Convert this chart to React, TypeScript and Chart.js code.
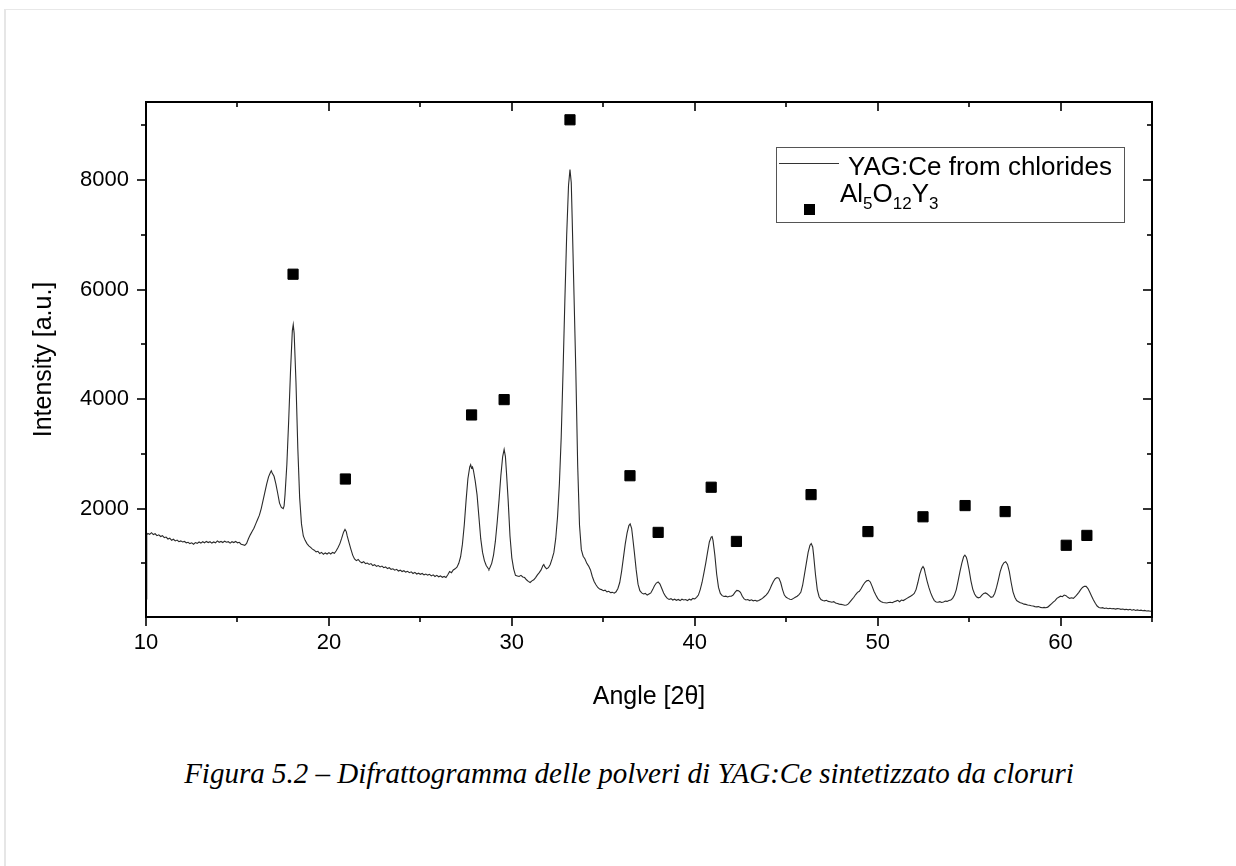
import React, { useEffect, useRef } from 'react';
import { Chart, registerables } from 'chart.js';

Chart.register(...registerables);

// ---------- data ----------
const angles = [
  10.0, 10.04, 10.1, 10.2, 10.3, 10.4, 10.5, 10.6, 10.7, 10.8,
  10.9, 11.0, 11.1, 11.2, 11.3, 11.4, 11.5, 11.6, 11.7, 11.8,
  11.9, 12.0, 12.1, 12.2, 12.3, 12.4, 12.5, 12.6, 12.7, 12.8,
  12.9, 13.0, 13.1, 13.2, 13.3, 13.4, 13.5, 13.6, 13.7, 13.8,
  13.9, 14.0, 14.1, 14.2, 14.3, 14.4, 14.5, 14.6, 14.7, 14.8,
  14.9, 15.0, 15.1, 15.2, 15.3, 15.4, 15.5, 15.6, 15.7, 15.8,
  15.9, 16.0, 16.1, 16.2, 16.3, 16.4, 16.5, 16.6, 16.7, 16.8,
  16.85, 16.9, 17.0, 17.1, 17.2, 17.3, 17.4, 17.5, 17.55, 17.6,
  17.7, 17.8, 17.9, 18.0, 18.05, 18.1, 18.2, 18.3, 18.4, 18.5,
  18.6, 18.7, 18.8, 18.9, 19.0, 19.1, 19.2, 19.3, 19.4, 19.5,
  19.6, 19.7, 19.8, 19.9, 20.0, 20.1, 20.2, 20.3, 20.4, 20.5,
  20.6, 20.7, 20.8, 20.88, 20.95, 21.0, 21.1, 21.2, 21.3, 21.4,
  21.5, 21.6, 21.7, 21.8, 21.9, 22.0, 22.1, 22.2, 22.3, 22.4,
  22.5, 22.6, 22.7, 22.8, 22.9, 23.0, 23.1, 23.2, 23.3, 23.4,
  23.5, 23.6, 23.7, 23.8, 23.9, 24.0, 24.1, 24.2, 24.3, 24.4,
  24.5, 24.6, 24.7, 24.8, 24.9, 25.0, 25.1, 25.2, 25.3, 25.4,
  25.5, 25.6, 25.7, 25.8, 25.9, 26.0, 26.1, 26.2, 26.3, 26.4,
  26.5, 26.6, 26.7, 26.8, 26.9, 27.0, 27.1, 27.2, 27.3, 27.4,
  27.5, 27.6, 27.7, 27.75, 27.8, 27.85, 27.9, 28.0, 28.1, 28.2,
  28.3, 28.4, 28.5, 28.6, 28.7, 28.75, 28.8, 28.9, 29.0, 29.1,
  29.2, 29.3, 29.4, 29.5, 29.58, 29.65, 29.7, 29.8, 29.9, 30.0,
  30.1, 30.2, 30.3, 30.4, 30.5, 30.6, 30.7, 30.8, 30.9, 31.0,
  31.1, 31.2, 31.3, 31.4, 31.5, 31.6, 31.7, 31.75, 31.8, 31.9,
  32.0, 32.1, 32.2, 32.3, 32.4, 32.5, 32.6, 32.7, 32.8, 32.9,
  33.0, 33.1, 33.18, 33.25, 33.3, 33.4, 33.5, 33.6, 33.7, 33.8,
  33.9, 34.0, 34.1, 34.2, 34.3, 34.4, 34.5, 34.6, 34.7, 34.8,
  34.9, 35.0, 35.1, 35.2, 35.3, 35.4, 35.5, 35.6, 35.7, 35.8,
  35.9, 36.0, 36.1, 36.2, 36.3, 36.4, 36.47, 36.55, 36.6, 36.7,
  36.8, 36.9, 37.0, 37.1, 37.2, 37.3, 37.4, 37.5, 37.6, 37.7,
  37.8, 37.9, 38.0, 38.1, 38.2, 38.3, 38.4, 38.5, 38.6, 38.7,
  38.8, 38.9, 39.0, 39.1, 39.2, 39.3, 39.4, 39.5, 39.6, 39.7,
  39.8, 39.9, 40.0, 40.1, 40.2, 40.3, 40.4, 40.5, 40.6, 40.7,
  40.8, 40.9, 40.95, 41.0, 41.1, 41.2, 41.3, 41.4, 41.5, 41.6,
  41.7, 41.8, 41.9, 42.0, 42.1, 42.2, 42.3, 42.4, 42.5, 42.6,
  42.7, 42.8, 42.9, 43.0, 43.1, 43.2, 43.3, 43.4, 43.5, 43.6,
  43.7, 43.8, 43.9, 44.0, 44.1, 44.2, 44.3, 44.4, 44.5, 44.6,
  44.7, 44.8, 44.9, 45.0, 45.1, 45.2, 45.3, 45.4, 45.5, 45.6,
  45.7, 45.8, 45.9, 46.0, 46.1, 46.2, 46.3, 46.37, 46.45, 46.5,
  46.6, 46.7, 46.8, 46.9, 47.0, 47.1, 47.2, 47.3, 47.4, 47.5,
  47.6, 47.7, 47.8, 47.9, 48.0, 48.1, 48.2, 48.3, 48.4, 48.5,
  48.6, 48.7, 48.8, 48.9, 49.0, 49.1, 49.2, 49.3, 49.4, 49.5,
  49.6, 49.7, 49.8, 49.9, 50.0, 50.1, 50.2, 50.3, 50.4, 50.5,
  50.6, 50.7, 50.8, 50.9, 51.0, 51.1, 51.2, 51.3, 51.4, 51.5,
  51.6, 51.7, 51.8, 51.9, 52.0, 52.1, 52.2, 52.3, 52.4, 52.48,
  52.55, 52.6, 52.7, 52.8, 52.9, 53.0, 53.1, 53.2, 53.3, 53.4,
  53.5, 53.6, 53.7, 53.8, 53.9, 54.0, 54.1, 54.2, 54.3, 54.4,
  54.5, 54.6, 54.7, 54.77, 54.85, 54.9, 55.0, 55.1, 55.2, 55.3,
  55.4, 55.5, 55.6, 55.7, 55.8, 55.9, 56.0, 56.1, 56.2, 56.3,
  56.4, 56.5, 56.6, 56.7, 56.8, 56.9, 57.0, 57.1, 57.2, 57.3,
  57.4, 57.5, 57.6, 57.7, 57.8, 57.9, 58.0, 58.1, 58.2, 58.3,
  58.4, 58.5, 58.6, 58.7, 58.8, 58.9, 59.0, 59.1, 59.2, 59.3,
  59.4, 59.5, 59.6, 59.7, 59.8, 59.9, 60.0, 60.1, 60.2, 60.3,
  60.4, 60.5, 60.6, 60.7, 60.8, 60.9, 61.0, 61.1, 61.2, 61.3,
  61.4, 61.5, 61.6, 61.7, 61.8, 61.9, 62.0, 62.1, 62.2, 62.3,
  62.4, 62.5, 62.6, 62.7, 62.8, 62.9, 63.0, 63.1, 63.2, 63.3,
  63.4, 63.5, 63.6, 63.7, 63.8, 63.9, 64.0, 64.1, 64.2, 64.3,
  64.4, 64.5, 64.6, 64.7, 64.8, 64.9, 65.0,
];

const intensities = [
  350, 1520, 1545, 1530, 1560, 1525, 1540, 1505, 1520, 1490,
  1505, 1470, 1480, 1445, 1460, 1420, 1440, 1410, 1425, 1395,
  1410, 1390, 1400, 1375, 1385, 1360, 1375, 1350, 1380, 1365,
  1390, 1370, 1395, 1375, 1400, 1380, 1395, 1370, 1390, 1375,
  1410, 1385, 1400, 1380, 1405, 1385, 1395, 1370, 1395, 1380,
  1400, 1375, 1385, 1350, 1340, 1330, 1365, 1450, 1520, 1580,
  1640, 1720, 1800, 1880, 2000, 2150, 2300, 2450, 2580, 2660,
  2690, 2650, 2590, 2450, 2280, 2100, 2020, 2000, 2050, 2250,
  2800, 3600, 4500, 5250, 5360, 5200, 4300, 3100, 2200, 1720,
  1500, 1420, 1360, 1320, 1290, 1260, 1240, 1210, 1220, 1180,
  1200, 1165, 1190, 1170, 1195, 1170, 1200, 1185, 1230, 1290,
  1360, 1460, 1570, 1620, 1580, 1500, 1380, 1260, 1150, 1080,
  1050, 1070, 1030, 1010, 1030, 995, 1005, 980, 995, 960,
  975, 945, 960, 935, 950, 920, 935, 905, 920, 890,
  900, 875, 890, 860, 875, 850, 865, 840, 855, 830,
  845, 815, 835, 805, 820, 800, 815, 790, 805, 785,
  800, 770, 790, 760, 780, 755, 770, 745, 760, 740,
  790, 850, 830, 880, 900, 930, 1000, 1120, 1350, 1700,
  2150, 2550, 2760, 2800, 2740, 2760, 2700, 2500, 2250, 1850,
  1450, 1200, 1050, 960, 910, 890, 920, 1000, 1150, 1400,
  1750, 2150, 2600, 2950, 3080, 2950, 2700, 2150, 1500, 1100,
  900, 780, 770, 760, 780, 750, 740, 700, 670, 650,
  680, 700, 740, 790, 830, 880, 960, 980, 940, 900,
  920, 980, 1080, 1200, 1450, 1850, 2450, 3300, 4500, 5800,
  7000, 7900, 8190, 7950, 7300, 5900, 4500, 2800, 1700, 1250,
  1130, 1080, 1000, 950, 880, 760, 670, 610, 560, 530,
  520, 500, 510, 480, 490, 465, 470, 455, 480, 540,
  650, 850, 1100, 1350, 1550, 1690, 1720, 1640, 1500, 1200,
  880, 620, 500, 460, 440, 450, 420, 440, 460, 520,
  590, 640, 660, 620, 540, 460, 400, 360, 340, 355,
  330, 345, 325, 340, 320, 345, 330, 340, 320, 345,
  330, 360, 350, 380, 420, 520, 650, 820, 1000, 1200,
  1390, 1480, 1490, 1420, 1150, 800, 560, 450, 410, 395,
  400, 385, 400, 400, 420, 470, 505, 500, 470, 400,
  350, 330, 340, 320, 335, 315, 325, 310, 320, 340,
  360, 390, 420, 460, 520, 600, 670, 720, 740, 730,
  650, 520, 420, 380, 360, 345, 340, 360, 380, 400,
  430, 470, 600, 800, 1000, 1200, 1330, 1360, 1300, 1150,
  800, 520, 390, 340, 320, 315, 325, 305, 300, 290,
  300, 275, 265, 255, 250, 245, 235, 240, 260, 300,
  340, 380, 430, 470, 490, 540, 600, 650, 680, 690,
  660, 580, 490, 420, 360, 320, 300, 285, 280, 275,
  285, 290, 280, 300, 310, 325, 300, 330, 320, 340,
  360, 380, 400, 420, 450, 520, 650, 800, 900, 940,
  900, 820, 680, 560, 460, 380, 320, 295, 290, 300,
  285, 295, 310, 305, 320, 330, 360, 420, 520, 680,
  850, 1000, 1120, 1150, 1110, 1050, 880, 680, 530, 440,
  390, 370, 380, 420, 450, 460, 440, 410, 380, 390,
  450, 560, 700, 850, 950, 1010, 1030, 980, 850, 650,
  480, 380, 320, 300, 280, 270, 255, 250, 240, 235,
  225, 220, 210, 205, 210, 195, 190, 195, 190, 200,
  230, 260, 290, 320, 360, 380, 400, 390, 420, 410,
  380, 360, 370, 360, 390, 430, 470, 520, 560, 580,
  580, 540, 470, 400, 330, 270, 220, 195, 185, 190,
  175, 185, 170, 180, 170, 175, 165, 172, 170, 160,
  165, 155, 160, 150, 160, 145, 155, 140, 150, 140,
  145, 135, 140, 130, 135, 125, 130,
];

const peakAngles = [18.04, 20.9, 27.8, 29.58, 33.18, 36.46, 38.0, 40.9, 42.28, 46.36, 49.47, 52.48, 54.78, 56.97, 60.31, 61.44];
const peakIntensities = [6280, 2540, 3710, 3990, 9100, 2600, 1565, 2390, 1400, 2255, 1580, 1850, 2055, 1945, 1330, 1510];

const xRange = [10, 65];
const yRange = [20, 9425];
const xMajorTicks = [10, 20, 30, 40, 50, 60];
const xMinorTicks = [15, 25, 35, 45, 55, 65];
const yMajorTicks = [2000, 4000, 6000, 8000];
const yMinorTicks = [1000, 3000, 5000, 7000, 9000];

const seriesLabel = 'YAG:Ce from chlorides';
const markerLabel = 'Al5O12Y3';
const markerLabelParts: [string, boolean][] = [['Al', false], ['5', true], ['O', false], ['12', true], ['Y', false], ['3', true]];
const xTitle = 'Angle [2θ]';
const yTitle = 'Intensity [a.u.]';
const caption = 'Figura 5.2 – Difrattogramma delle polveri di YAG:Ce sintetizzato da cloruri';

// ---------- layout ----------
const W = 1236;
const H = 720;
const AREA = { left: 146, top: 102, right: 1152, bottom: 617 };
const SANS = '"Liberation Sans", Arial, Helvetica, sans-serif';

const framePlugin = {
  id: 'originFrame',
  afterDraw(chart: any) {
    const { ctx, chartArea: a, scales } = chart;
    const xs = scales.x;
    const ys = scales.y;
    ctx.save();
    ctx.strokeStyle = '#000';
    ctx.lineWidth = 2;
    ctx.strokeRect(a.left, a.top, a.right - a.left, a.bottom - a.top);

    ctx.lineWidth = 1.6;
    const seg = (x1: number, y1: number, x2: number, y2: number) => {
      ctx.beginPath();
      ctx.moveTo(x1, y1);
      ctx.lineTo(x2, y2);
      ctx.stroke();
    };
    const xTicks = (vals: number[], len: number) => {
      for (const v of vals) {
        const p = Math.round(xs.getPixelForValue(v));
        seg(p, a.bottom, p, a.bottom + len);
        seg(p, a.top, p, a.top + len);
      }
    };
    const yTicks = (vals: number[], len: number) => {
      for (const v of vals) {
        const p = Math.round(ys.getPixelForValue(v));
        seg(a.left, p, a.left - len, p);
        seg(a.right, p, a.right - len, p);
      }
    };
    xTicks(xMajorTicks, 9);
    xTicks(xMinorTicks, 5);
    yTicks(yMajorTicks, 9);
    yTicks(yMinorTicks, 5);

    // legend
    const bx = a.right - 376;
    const by = a.top + 45;
    ctx.lineWidth = 1;
    ctx.strokeStyle = '#555';
    ctx.strokeRect(bx + 0.5, by + 0.5, 348, 75);

    ctx.strokeStyle = '#333';
    ctx.lineWidth = 1.2;
    seg(bx + 3, by + 16.5, bx + 63, by + 16.5);

    ctx.fillStyle = '#000';
    ctx.textBaseline = 'alphabetic';
    ctx.textAlign = 'left';
    ctx.font = `26px ${SANS}`;
    ctx.fillText(chart.data.datasets[0].label, bx + 72, by + 28);

    ctx.fillRect(bx + 28, by + 57, 11, 11);
    let tx = bx + 64;
    const base = by + 55;
    for (const [t, sub] of markerLabelParts) {
      ctx.font = sub ? `17px ${SANS}` : `26px ${SANS}`;
      ctx.fillText(t, tx, sub ? base + 7 : base);
      tx += ctx.measureText(t).width;
    }
    ctx.restore();
  },
};

export default function App() {
  const ref = useRef<HTMLCanvasElement | null>(null);

  useEffect(() => {
    document.body.style.margin = '0';
    const canvas = ref.current;
    if (!canvas) return;
    const chart = new Chart(canvas, {
      type: 'scatter',
      data: {
        datasets: [
          {
            type: 'line',
            label: seriesLabel,
            data: angles.map((a, i) => ({ x: a, y: intensities[i] })),
            borderColor: '#2a2a2a',
            borderWidth: 1.1,
            pointRadius: 0,
            tension: 0,
            fill: false,
          } as any,
          {
            type: 'scatter',
            label: markerLabel,
            data: peakAngles.map((a, i) => ({ x: a, y: peakIntensities[i] })),
            pointStyle: 'rect',
            pointRadius: 7.2,
            backgroundColor: '#000',
            borderColor: '#000',
            borderWidth: 1,
          },
        ],
      },
      options: {
        responsive: false,
        animation: false,
        devicePixelRatio: 1,
        layout: { padding: { left: 0, top: AREA.top, right: W - AREA.right, bottom: 0 } },
        plugins: { legend: { display: false }, tooltip: { enabled: false } },
        scales: {
          x: {
            type: 'linear',
            position: 'bottom',
            min: xRange[0],
            max: xRange[1],
            grid: { display: false },
            border: { display: false },
            afterBuildTicks: (s: any) => { s.ticks = xMajorTicks.map((v) => ({ value: v })); },
            afterFit: (s: any) => { s.height = H - AREA.bottom; },
            ticks: { color: '#000', font: { family: SANS, size: 22 }, padding: 5, maxRotation: 0, callback: (v: any) => String(v) },
            title: { display: true, text: xTitle, color: '#000', font: { family: SANS, size: 25 }, padding: { top: 0, bottom: 8 } },
          },
          y: {
            type: 'linear',
            position: 'left',
            min: yRange[0],
            max: yRange[1],
            grid: { display: false },
            border: { display: false },
            afterBuildTicks: (s: any) => { s.ticks = yMajorTicks.map((v) => ({ value: v })); },
            afterFit: (s: any) => { s.width = AREA.left; },
            ticks: { color: '#000', font: { family: SANS, size: 22 }, padding: 9, callback: (v: any) => String(v) },
            title: { display: true, text: yTitle, color: '#000', font: { family: SANS, size: 25 }, padding: { top: 29, bottom: 0 } },
          },
        },
      },
      plugins: [framePlugin],
    });
    return () => chart.destroy();
  }, []);

  return (
    <div style={{ position: 'relative', width: W, height: 866, background: '#fff', overflow: 'hidden' }}>
      <div
        style={{
          position: 'absolute', left: 4, top: 9, right: 0, bottom: 0,
          borderLeft: '2px solid #e6e6e6', borderTop: '1px solid #e8e8e8', pointerEvents: 'none',
        }}
      />
      <canvas ref={ref} width={W} height={H} style={{ position: 'absolute', left: 0, top: 0, width: W, height: H }} />
      <div
        style={{
          position: 'absolute', left: 11, top: 755, width: W, textAlign: 'center',
          fontFamily: '"Liberation Serif", "Times New Roman", serif', fontStyle: 'italic',
          fontSize: 29, lineHeight: '36px', color: '#000',
        }}
      >
        {caption}
      </div>
    </div>
  );
}
